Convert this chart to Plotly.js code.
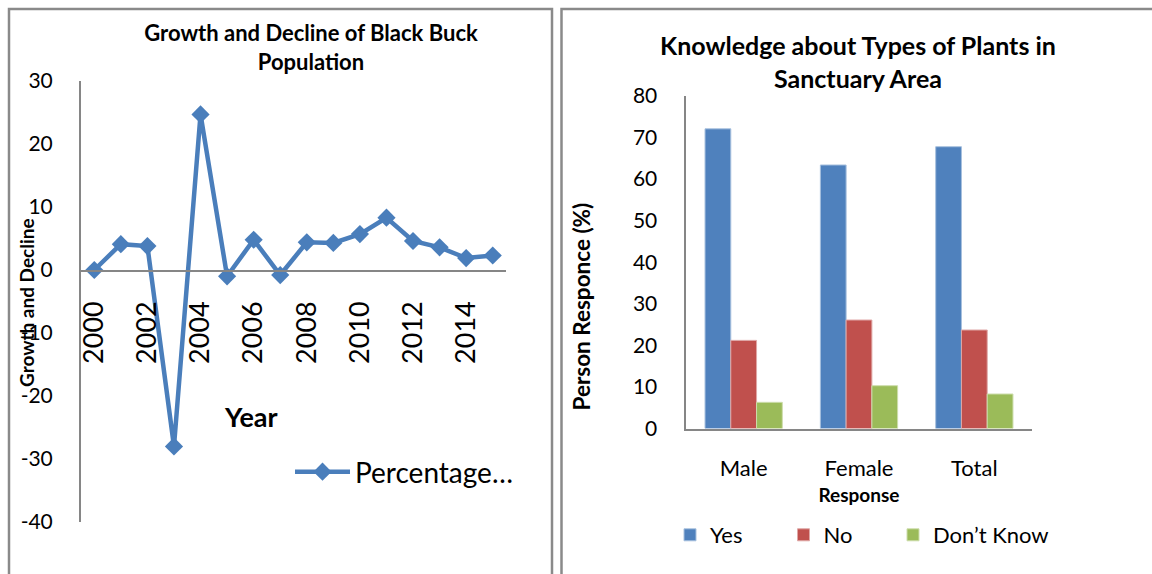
<!DOCTYPE html>
<html>
<head>
<meta charset="utf-8">
<script src="https://cdn.plot.ly/plotly-3.0.1.min.js"></script>
<style>html,body{margin:0;padding:0;background:#fff;}#chart{width:1152px;height:574px;}</style>
</head>
<body>
<div id="chart"></div>
<script>
// ---- Left chart data: Growth and Decline of Black Buck Population ----
const years = [2000, 2001, 2002, 2003, 2004, 2005, 2006, 2007, 2008, 2009, 2010, 2011, 2012, 2013, 2014, 2015];
const growth = [0.0, 4.1, 3.8, -28.0, 24.7, -1.0, 4.8, -0.8, 4.4, 4.3, 5.7, 8.3, 4.6, 3.6, 1.9, 2.3];
const yearTickLabels = [2000, 2002, 2004, 2006, 2008, 2010, 2012, 2014];
const growthTicks = [-40, -30, -20, -10, 0, 10, 20, 30];
const lineSeriesName = 'Percentage…';

// ---- Right chart data: Knowledge about Types of Plants in Sanctuary Area ----
const groups = ['Male', 'Female', 'Total'];
const yesValues = [72.1, 63.4, 67.8];
const noValues = [21.2, 26.1, 23.7];
const dontKnowValues = [6.3, 10.3, 8.3];
const percentTicks = [0, 10, 20, 30, 40, 50, 60, 70, 80];

const W = 1152, H = 574;
const px = v => v / W;
const py = v => 1 - v / H;
const FONT = 'Lato, "Open Sans", sans-serif';
const AXIS_GREY = '#868686';

const traces = [
  {
    type: 'scatter', mode: 'lines+markers', name: lineSeriesName,
    x: years, y: growth, xaxis: 'x', yaxis: 'y', legend: 'legend', showlegend: true,
    line: {color: '#4A7EBB', width: 4.5},
    marker: {symbol: 'diamond', size: 14, color: '#4A7EBB'}
  },
  {
    type: 'bar', name: 'Yes', x: groups, y: yesValues, xaxis: 'x2', yaxis: 'y2', legend: 'legend2', showlegend: true,
    marker: {color: '#4F81BD', line: {color: '#A7C0DE', width: 1}}
  },
  {
    type: 'bar', name: 'No', x: groups, y: noValues, xaxis: 'x2', yaxis: 'y2', legend: 'legend3', showlegend: true,
    marker: {color: '#C0504D', line: {color: '#DFA7A6', width: 1}}
  },
  {
    type: 'bar', name: 'Don’t Know', x: groups, y: dontKnowValues, xaxis: 'x2', yaxis: 'y2', legend: 'legend4', showlegend: true,
    marker: {color: '#9BBB59', line: {color: '#CDDDAC', width: 1}}
  }
];

const legendBase = (x, y, size) => ({
  x: px(x), xanchor: 'left', y: py(y), yanchor: 'middle',
  bgcolor: 'rgba(0,0,0,0)', borderwidth: 0,
  font: {family: FONT, size: size, color: '#000'}
});

const layout = {
  width: W, height: H, autosize: false,
  margin: {l: 0, r: 0, t: 0, b: 0, pad: 0},
  paper_bgcolor: '#ffffff', plot_bgcolor: '#ffffff',
  font: {family: FONT, color: '#000000'},
  showlegend: true,
  barmode: 'group', bargap: 0.33, bargroupgap: 0,
  title: {
    text: 'Growth and Decline of Black Buck<br>Population',
    font: {family: FONT, size: 22, color: '#000', weight: 700},
    x: px(311), xref: 'paper', xanchor: 'center',
    y: py(41), yref: 'container', yanchor: 'middle'
  },
  xaxis: {
    domain: [px(81), px(506)], range: [1999.5, 2015.5],
    anchor: 'free', position: py(270.5),
    showline: true, linecolor: AXIS_GREY, linewidth: 2,
    showgrid: false, zeroline: false, ticks: '',
    tickmode: 'array', tickvals: yearTickLabels, ticktext: yearTickLabels.map(String),
    tickangle: -90, tickfont: {family: FONT, size: 27, color: '#000'},
    ticklabelstandoff: 19, fixedrange: true
  },
  yaxis: {
    domain: [py(522), py(81)], range: [-40, 30], anchor: 'x',
    showline: true, linecolor: AXIS_GREY, linewidth: 2,
    showgrid: false, zeroline: false, ticks: '',
    tickmode: 'array', tickvals: growthTicks, ticktext: growthTicks.map(String),
    tickfont: {family: FONT, size: 21, color: '#000'},
    ticklabelstandoff: 22, fixedrange: true
  },
  xaxis2: {
    domain: [px(686), px(1032)], anchor: 'y2', type: 'category',
    showline: true, linecolor: AXIS_GREY, linewidth: 2.5,
    showgrid: false, zeroline: false, ticks: '',
    tickfont: {family: FONT, size: 22, color: '#000'},
    ticklabelstandoff: 19,
    title: {text: 'Response', font: {family: FONT, size: 19, color: '#000', weight: 700}, standoff: 9},
    fixedrange: true
  },
  yaxis2: {
    domain: [py(428.5), py(96)], range: [0, 80], anchor: 'x2',
    showline: true, linecolor: AXIS_GREY, linewidth: 2.5,
    showgrid: false, zeroline: false, ticks: '',
    tickmode: 'array', tickvals: percentTicks, ticktext: percentTicks.map(String),
    tickfont: {family: FONT, size: 21, color: '#000'},
    ticklabelstandoff: 22, fixedrange: true
  },
  legend: Object.assign(legendBase(290, 472, 28), {itemwidth: 55}),
  legend2: legendBase(670, 535, 22),
  legend3: legendBase(783.5, 535, 22),
  legend4: legendBase(893, 535, 22),
  annotations: [
    {
      text: 'Knowledge about Types of Plants in<br>Sanctuary Area',
      xref: 'paper', yref: 'paper', x: px(858), y: py(61),
      xanchor: 'center', yanchor: 'middle', showarrow: false,
      font: {family: FONT, size: 25, color: '#000', weight: 700}
    },
    {
      text: 'Growth and Decline', textangle: -90,
      xref: 'paper', yref: 'paper', x: px(26.5), y: py(302.5),
      xanchor: 'center', yanchor: 'middle', showarrow: false,
      font: {family: FONT, size: 19, color: '#000', weight: 700}
    },
    {
      text: 'Year',
      xref: 'paper', yref: 'paper', x: px(250.5), y: py(416),
      xanchor: 'center', yanchor: 'middle', showarrow: false,
      font: {family: FONT, size: 27, color: '#000', weight: 700}
    },
    {
      text: 'Person Responce (%)', textangle: -90,
      xref: 'paper', yref: 'paper', x: px(581), y: py(306.5),
      xanchor: 'center', yanchor: 'middle', showarrow: false,
      font: {family: FONT, size: 22.5, color: '#000', weight: 700}
    }
  ],
  shapes: [
    {type: 'rect', xref: 'paper', yref: 'paper', x0: px(9), x1: px(552), y0: -0.1, y1: py(9),
     line: {color: '#8a8a8a', width: 2.5}, fillcolor: 'rgba(0,0,0,0)', layer: 'below'},
    {type: 'rect', xref: 'paper', yref: 'paper', x0: px(561.5), x1: 1.1, y0: -0.1, y1: py(9),
     line: {color: '#8a8a8a', width: 2.5}, fillcolor: 'rgba(0,0,0,0)', layer: 'below'}
  ]
};

Plotly.newPlot('chart', traces, layout, {displayModeBar: false, staticPlot: true});
</script>
</body>
</html>
